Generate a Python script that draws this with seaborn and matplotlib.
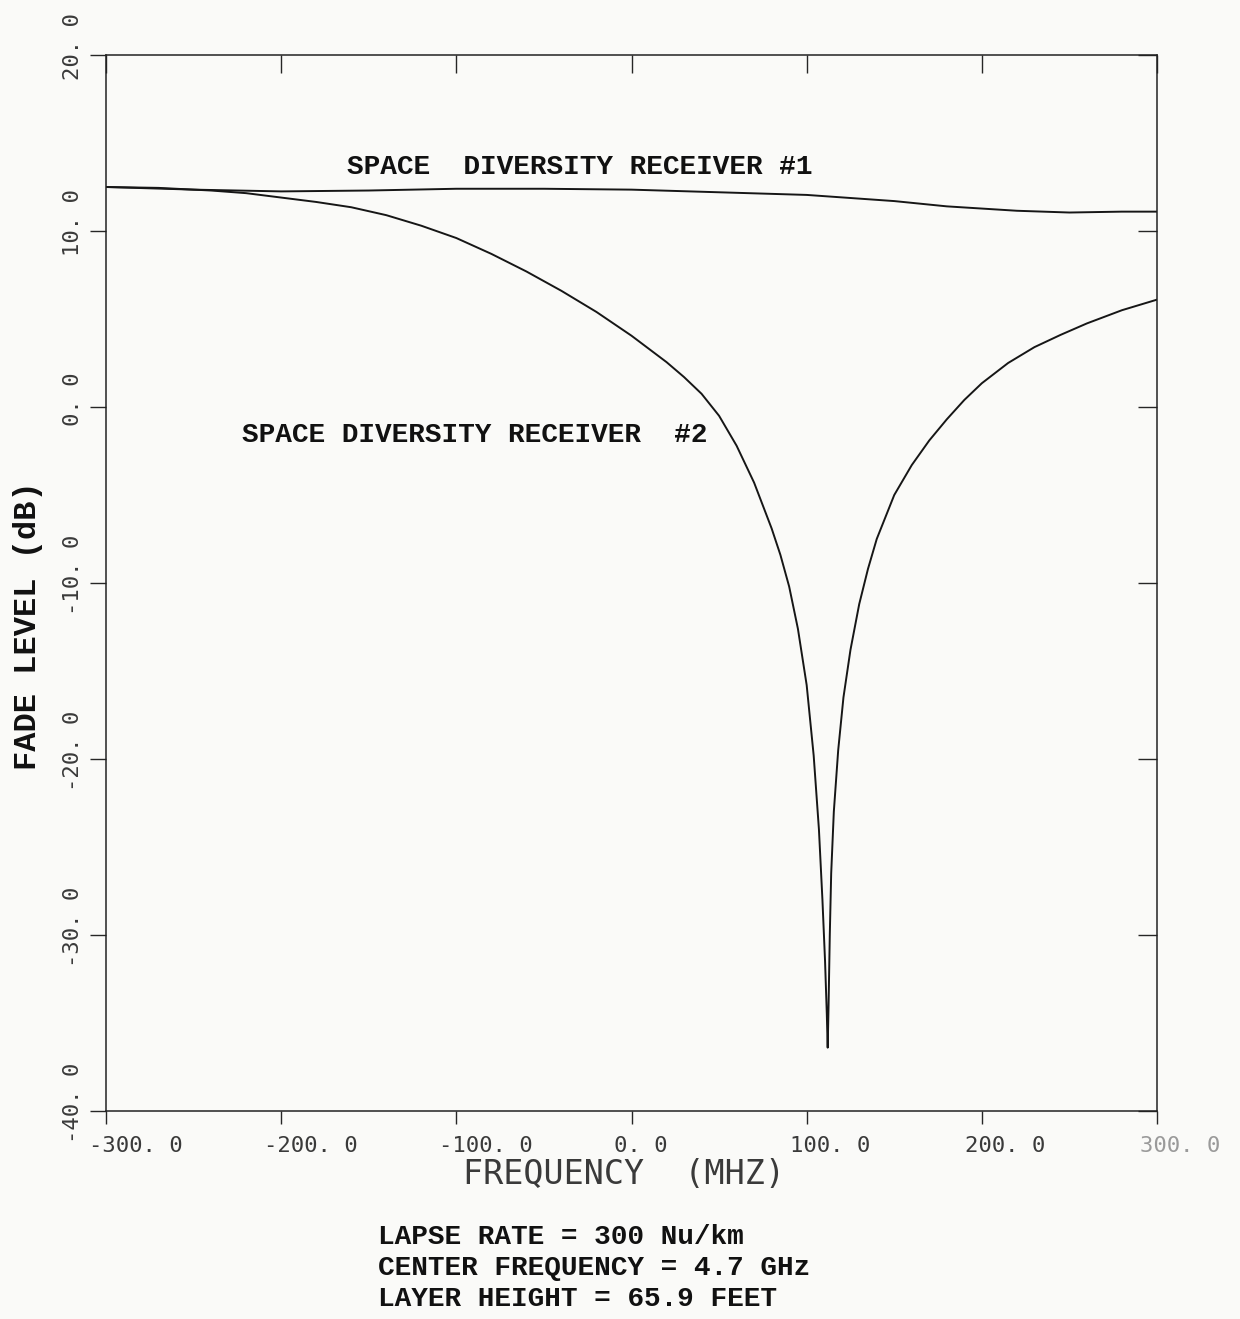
import numpy as np
import pandas as pd
import seaborn as sns
import matplotlib.pyplot as plt
from matplotlib.transforms import ScaledTranslation

# --- values ---
freq_rx1 = [-300, -250, -200, -150, -100, -50, 0, 50, 100, 150, 180, 220, 250, 280, 300]
fade_rx1 = [12.5, 12.35, 12.25, 12.3, 12.4, 12.4, 12.35, 12.2, 12.05, 11.7, 11.4, 11.15, 11.05, 11.1, 11.1]

freq_rx2 = [-300, -270, -240, -220, -200, -180, -160, -140, -120, -100, -80, -60, -40, -20,
            0, 10, 20, 30, 40, 50, 60, 70, 80, 85, 90, 95, 100, 104, 107, 109, 110.5, 111.5,
            112, 112.5, 113.2, 114, 115.5, 118, 121, 125, 130, 135, 140, 150, 160, 170, 180,
            190, 200, 215, 230, 245, 260, 280, 300]
fade_rx2 = [12.5, 12.45, 12.3, 12.15, 11.9, 11.65, 11.35, 10.9, 10.3, 9.6, 8.7, 7.7, 6.6, 5.4,
            4.05, 3.3, 2.55, 1.7, 0.75, -0.5, -2.2, -4.3, -6.9, -8.4, -10.2, -12.6, -15.8, -19.8,
            -24.0, -28.0, -31.5, -34.5, -36.4, -34.0, -30.0, -26.5, -23.0, -19.5, -16.5, -13.8,
            -11.2, -9.2, -7.5, -5.0, -3.3, -1.9, -0.7, 0.4, 1.35, 2.5, 3.4, 4.1, 4.75, 5.5, 6.1]

x_ticks = [-300, -200, -100, 0, 100, 200, 300]
x_tick_labels = ["-300. 0", "-200. 0", "-100. 0", "0. 0", "100. 0", "200. 0", "300. 0"]
y_ticks = [-40, -30, -20, -10, 0, 10, 20]
y_tick_labels = ["-40. 0", "-30. 0", "-20. 0", "-10. 0", "0. 0", "10. 0", "20. 0"]

notes = ["LAPSE RATE = 300 Nu/km", "CENTER FREQUENCY = 4.7 GHz", "LAYER HEIGHT = 65.9 FEET"]

sns.set_theme(style="ticks")
plt.rcParams["font.family"] = ["DejaVu Sans Mono", "DejaVu Sans"]
plt.rcParams["axes.unicode_minus"] = False

typewriter = dict(family=["Liberation Mono", "DejaVu Sans Mono"], weight="bold", color="#111111")
bg = "#fafaf8"
ink = "#161616"

fig = plt.figure(figsize=(12.4, 13.19), dpi=100, facecolor=bg)
ax = fig.add_axes([106 / 1240, 1 - 1111 / 1319, 1051 / 1240, 1056 / 1319])
ax.set_facecolor(bg)

df1 = pd.DataFrame({"freq": freq_rx1, "fade": fade_rx1})
df2 = pd.DataFrame({"freq": freq_rx2, "fade": fade_rx2})
sns.lineplot(data=df1, x="freq", y="fade", ax=ax, color=ink, linewidth=1.4, estimator=None)
sns.lineplot(data=df2, x="freq", y="fade", ax=ax, color=ink, linewidth=1.4, estimator=None)

ax.set_xlim(-300, 300)
ax.set_ylim(-40, 20)
ax.set_xticks(x_ticks)
ax.set_xticklabels(x_tick_labels)
ax.set_yticks(y_ticks)
ax.set_yticklabels(y_tick_labels)

for side in ["left", "right", "top", "bottom"]:
    ax.spines[side].set_visible(True)
    ax.spines[side].set_linewidth(1.1)
    ax.spines[side].set_color("#222222")

ax.tick_params(axis="x", which="major", direction="out", length=9, width=1.0,
               labelsize=16, labelcolor="#3a3a3a", pad=9)
ax.tick_params(axis="y", which="major", direction="out", length=11.5, width=1.0,
               labelsize=16, labelcolor="#3a3a3a", pad=5, labelrotation=90)

# inward ticks on the top and right frame
top = ax.secondary_xaxis("top")
top.set_xticks(x_ticks)
top.tick_params(direction="in", length=13, width=1.0, labeltop=False)
top.spines["top"].set_visible(False)
right = ax.secondary_yaxis("right")
right.set_yticks(y_ticks)
right.tick_params(direction="in", length=13.5, width=1.0, labelright=False)
right.spines["right"].set_visible(False)

shift_x = ScaledTranslation(-17 / 100, 0, fig.dpi_scale_trans)
for lab in ax.get_xticklabels():
    lab.set_horizontalalignment("left")
    lab.set_transform(lab.get_transform() + shift_x)
ax.get_xticklabels()[-1].set_color("#9a9a9a")

shift_y = ScaledTranslation(0, 8 / 100, fig.dpi_scale_trans)
for lab in ax.get_yticklabels():
    lab.set_verticalalignment("center")
    lab.set_transform(lab.get_transform() + shift_y)

ax.set_xlabel("FREQUENCY  (MHZ)", fontsize=24, color="#3a3a3a")
ax.xaxis.set_label_coords(0.493, -0.0605)
ax.xaxis.label.set_verticalalignment("center")

ax.set_ylabel("FADE LEVEL (dB)", fontsize=23, **typewriter)
ax.yaxis.set_label_coords(-0.074, 0.46)
ax.yaxis.label.set_verticalalignment("center")

ax.text(-162.4, 13.64, "SPACE  DIVERSITY RECEIVER #1", fontsize=20, va="center", ha="left", **typewriter)
ax.text(-222.3, -1.59, "SPACE DIVERSITY RECEIVER  #2", fontsize=20, va="center", ha="left", **typewriter)

for i, line in enumerate(notes):
    fig.text(378 / 1240, 1 - (1237 + 31 * i) / 1319, line, fontsize=20,
             ha="left", va="center", **typewriter)

fig.savefig("out.png", dpi=100, facecolor=bg)
